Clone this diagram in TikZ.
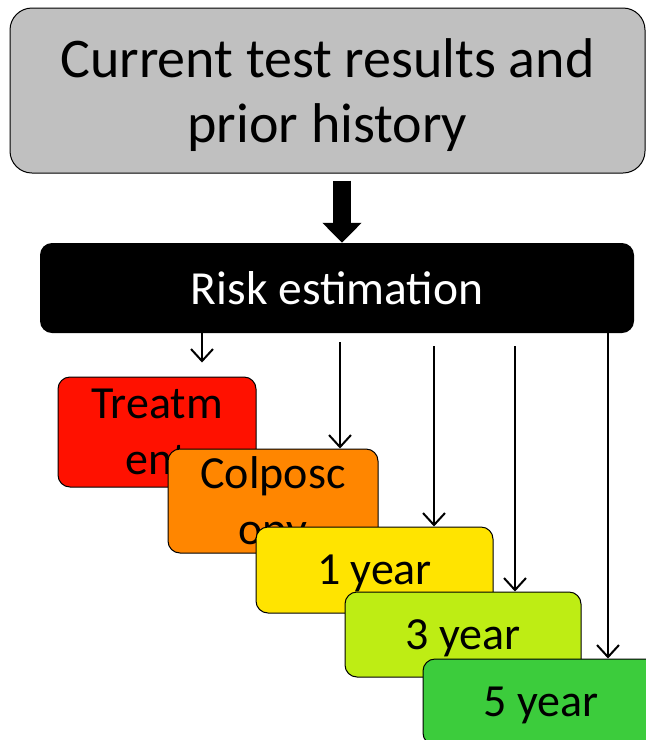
\documentclass[tikz,border=0pt]{standalone}
\usepackage{fontspec}
\setmainfont{Carlito}
\usetikzlibrary{arrows.meta,positioning}
\definecolor{histgray}{RGB}{192,192,192}
\definecolor{treatred}{RGB}{255,17,0}
\definecolor{colporange}{RGB}{255,134,0}
\definecolor{oneyellow}{RGB}{255,228,0}
\definecolor{threelime}{RGB}{190,237,20}
\definecolor{fivegreen}{RGB}{60,204,60}

\begin{document}
\begin{tikzpicture}[x=1pt,y=-1pt,every node/.style={align=center,inner sep=0pt},
  lvl/.style={draw,rounded corners=12pt,line width=1pt,font=\fontsize{46}{56}\selectfont},
  yr/.style={lvl,minimum width=236pt,minimum height=86pt,text height=39pt,text depth=10pt},
  pick/.style={-{Straight Barb[length=12pt,width=22pt]},line width=2pt}]
\useasboundingbox (0,0) rectangle (646,740);
\node[draw,rounded corners=22pt,fill=histgray,line width=1pt,minimum width=635pt,minimum height=165pt,font=\fontsize{56}{65}\selectfont] (hist) at (327.5,90.5) {\rule{0pt}{49pt}Current test results and\\prior history};
\node[fill=black,text=white,rounded corners=12pt,minimum width=594pt,minimum height=90pt,font=\fontsize{47.5}{56}\selectfont] (risk) at (337,288) {Risk estimation};
\node[lvl,fill=treatred,minimum width=198pt,minimum height=110pt] (treat) at (157,432) {Treatm\\ent};
\node[lvl,fill=colporange,minimum width=210pt,minimum height=104pt] (colp) at (273,501) {\rule{0pt}{39pt}Colposc\\opy};
\node[yr,fill=oneyellow,minimum width=237pt] (one) at (374.5,570) {1 year};
\node[yr,fill=threelime,minimum height=85pt] (three) at (463,634.5) {3 year};
\node[yr,fill=fivegreen] (five) at (541,702) {5 year};
% arrow columns
\coordinate (c0) at (342,0);
\coordinate (c1) at (202,0);
\coordinate (c2) at (340,0);
\coordinate (c3) at (434,0);
\coordinate (c4) at (515,0);
\coordinate (c5) at (608,0);
\draw[line width=18pt,-{Triangle[width=38pt,length=20pt]},shorten <=7pt] (hist.south -| c0) -- (risk.north -| c0);
\draw[pick,shorten >=14pt] (risk.south -| c1) -- (treat.north -| c1);
\draw[pick,shorten <=9pt] (risk.south -| c2) -- (colp.north -| c2);
\draw[pick,shorten <=13pt] (risk.south -| c3) -- (one.north -| c3);
\draw[pick,shorten <=13pt] (risk.south -| c4) -- (three.north -| c4);
\draw[pick] (risk.south -| c5) -- (five.north -| c5);
\end{tikzpicture}
\end{document}
